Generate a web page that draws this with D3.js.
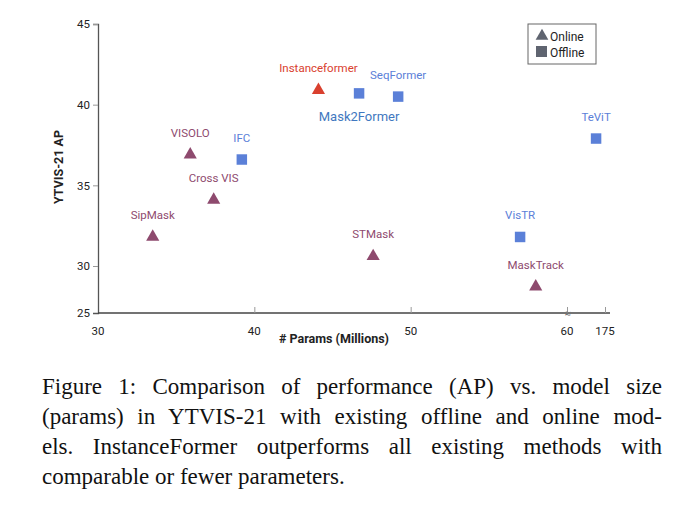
<!DOCTYPE html>
<html><head><meta charset="utf-8">
<script src="https://cdn.jsdelivr.net/npm/d3@7"></script>
<style>
body{margin:0;background:#fff;}
.cap{position:absolute;left:42px;top:372px;width:620px;font-family:"Liberation Serif",serif;font-size:23px;line-height:30px;color:#111;white-space:nowrap;}
.cap span{display:block;text-align:justify;text-align-last:justify;}
.cap span.last{text-align-last:left;}
</style></head><body>
<svg id="c" width="680" height="360" style="position:absolute;left:0;top:0"></svg>
<div class="cap"><span>Figure 1: Comparison of performance (AP) vs. model size</span><span>(params) in YTVIS-21 with existing offline and online mod-</span><span>els. InstanceFormer outperforms all existing methods with</span><span class="last">comparable or fewer parameters.</span></div>
<script>
var names = ["Instanceformer","Mask2Former","SeqFormer","TeViT","VISOLO","IFC","Cross VIS","SipMask","STMask","VisTR","MaskTrack"];
var params = [44.1, 46.7, 49.2, 148, 35.9, 39.2, 37.4, 33.5, 47.6, 57.0, 58.0];
var ap = [40.9, 40.7, 40.5, 37.9, 36.9, 36.6, 34.1, 31.8, 30.6, 31.8, 27.8];
var kind = ["online","offline","offline","offline","online","offline","online","online","online","offline","online"];
var xTicks = [30, 40, 50, 60, 175];
var yTicks = [25, 30, 35, 40, 45];

var svg = d3.select("#c");
var x = d3.scaleLinear().domain([30, 60, 175]).range([98, 567, 605]);
var y = d3.scaleLinear().domain([25, 30, 45]).range([313, 266, 24]);
var font = "Roboto, Arial, sans-serif";

// axes
var ya = svg.append("g").attr("transform", "translate(98,0)")
    .call(d3.axisLeft(y).tickValues(yTicks).tickSize(5).tickFormat(d3.format("d")));
ya.select(".domain").attr("stroke", "#555").attr("stroke-width", 1.3);
ya.selectAll("line").attr("stroke", "#999");
ya.selectAll("text").attr("font-family", font).attr("font-size", 11.5).attr("fill", "#222");
ya.selectAll(".tick").filter(function(d){ return d === 25; }).select("line").remove();

var xa = svg.append("g").attr("transform", "translate(0,313)")
    .call(d3.axisTop(x).tickValues(xTicks).tickSize(6).tickFormat(function(){ return ""; }));
xa.select(".domain").attr("d", "M98,0H610").attr("stroke", "#444").attr("stroke-width", 1.3);
xa.selectAll("line").attr("stroke", "#999");
xa.selectAll(".tick").filter(function(d){ return d === 30; }).remove();
svg.selectAll(".xl").data(xTicks).enter().append("text")
    .attr("x", function(d){ return x(d); }).attr("y", 335).attr("text-anchor", "middle")
    .attr("font-family", font).attr("font-size", 11.5).attr("fill", "#222").text(function(d){ return d; });
svg.append("text").attr("x", x(62)).attr("y", 317).attr("text-anchor", "middle")
    .attr("font-family", font).attr("font-size", 11).attr("fill", "#777").text("≈");

svg.append("text").attr("x", 334).attr("y", 343).attr("text-anchor", "middle")
    .attr("font-family", font).attr("font-weight", "bold").attr("font-size", 12.5).attr("fill", "#222").text("# Params (Millions)");
svg.append("text").attr("transform", "translate(63,167) rotate(-90)").attr("text-anchor", "middle")
    .attr("font-family", font).attr("font-weight", "bold").attr("font-size", 12.5).attr("fill", "#222").text("YTVIS-21 AP");

function col(i){
    if (i === 0) return "#d9402e";
    return kind[i] === "online" ? "#8e4a6e" : "#5b80d8";
}
var tri = d3.symbol().type(d3.symbolTriangle).size(75);
var sq = d3.symbol().type(d3.symbolSquare).size(110);
var idx = d3.range(names.length);
svg.selectAll(".m").data(idx).enter().append("path")
    .attr("transform", function(i){ return "translate(" + x(params[i]) + "," + y(ap[i]) + ")"; })
    .attr("d", function(i){ return kind[i] === "online" ? tri() : sq(); })
    .attr("fill", col);
svg.selectAll(".lb").data(idx).enter().append("text")
    .attr("x", function(i){ return x(params[i]); })
    .attr("y", function(i){ return i === 1 ? y(ap[i]) + 28 : y(ap[i]) - 18; })
    .attr("text-anchor", "middle").attr("font-family", font)
    .attr("font-size", function(i){ return i === 1 ? 13 : 11.5; })
    .attr("fill", function(i){ return i === 1 ? "#3f78c0" : (i === 0 ? "#d9402e" : (kind[i] === "online" ? "#8e4a6e" : "#5b80d8")); })
    .text(function(i){ return names[i]; });

// legend
var lg = svg.append("g").attr("transform", "translate(528,24)");
lg.append("rect").attr("width", 68).attr("height", 40).attr("fill", "#fff").attr("stroke", "#666");
lg.append("path").attr("transform", "translate(14,12)").attr("d", d3.symbol().type(d3.symbolTriangle).size(70)()).attr("fill", "#5f6470");
lg.append("rect").attr("x", 8).attr("y", 22).attr("width", 11).attr("height", 11).attr("fill", "#5f6470");
lg.append("text").attr("x", 22).attr("y", 17).attr("font-family", font).attr("font-size", 12).attr("fill", "#222").text("Online");
lg.append("text").attr("x", 22).attr("y", 33).attr("font-family", font).attr("font-size", 12).attr("fill", "#222").text("Offline");
</script>
</body></html>
